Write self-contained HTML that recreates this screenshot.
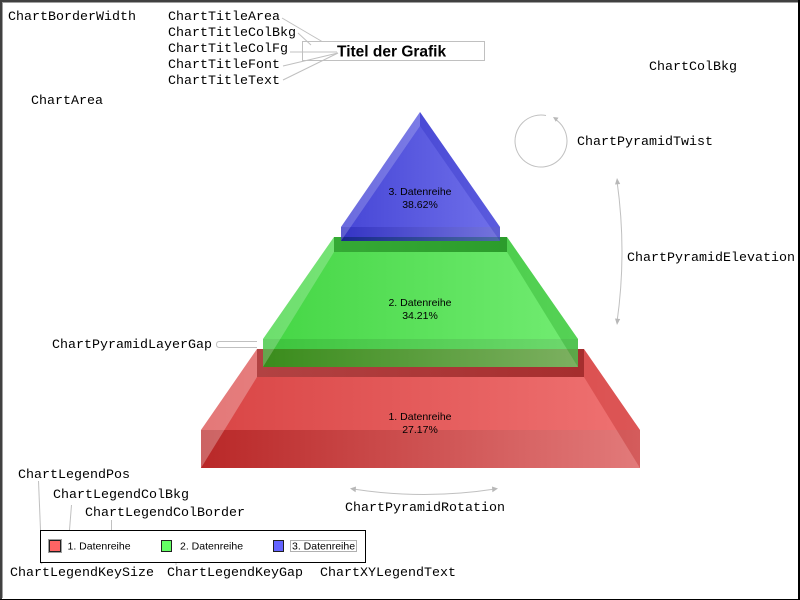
<!DOCTYPE html>
<html>
<head>
<meta charset="utf-8">
<style>
html,body{margin:0;padding:0;background:#fff;}
svg{display:block;}
.m{font-family:"Liberation Mono","DejaVu Sans Mono",monospace;font-size:13.33px;fill:#000;}
.s{font-family:"Liberation Sans",Arial,sans-serif;font-size:10.5px;fill:#000;}
</style>
</head>
<body>
<svg width="800" height="600" viewBox="0 0 800 600" xmlns="http://www.w3.org/2000/svg">
<defs>
<linearGradient id="rF" x1="0" y1="0" x2="1" y2="0"><stop offset="0" stop-color="#d94545"/><stop offset="1" stop-color="#ef7272"/></linearGradient>
<linearGradient id="rT" x1="0" y1="0" x2="1" y2="0"><stop offset="0" stop-color="#b24242"/><stop offset="1" stop-color="#a62e2e"/></linearGradient>
<linearGradient id="rB" x1="0" y1="0" x2="1" y2="0"><stop offset="0" stop-color="#b92828"/><stop offset="1" stop-color="#e27a7a"/></linearGradient>
<linearGradient id="gF" x1="0" y1="0" x2="1" y2="0"><stop offset="0" stop-color="#45d645"/><stop offset="1" stop-color="#72ec72"/></linearGradient>
<linearGradient id="gT" x1="0" y1="0" x2="1" y2="0"><stop offset="0" stop-color="#35aa35"/><stop offset="1" stop-color="#2c9c2c"/></linearGradient>
<linearGradient id="gA" x1="0" y1="0" x2="1" y2="0"><stop offset="0" stop-color="#3cc43c"/><stop offset="1" stop-color="#6ed86e"/></linearGradient>
<linearGradient id="gB" x1="0" y1="0" x2="1" y2="0"><stop offset="0" stop-color="#3a8c1c"/><stop offset="1" stop-color="#7cb060"/></linearGradient>
<linearGradient id="bF" x1="0" y1="0" x2="1" y2="0"><stop offset="0" stop-color="#4646d6"/><stop offset="1" stop-color="#7070ea"/></linearGradient>
<linearGradient id="bA" x1="0" y1="0" x2="1" y2="0"><stop offset="0" stop-color="#3434c4"/><stop offset="1" stop-color="#7474dc"/></linearGradient>
<linearGradient id="bB" x1="0" y1="0" x2="1" y2="0"><stop offset="0" stop-color="#18288c"/><stop offset="1" stop-color="#4a6aa4"/></linearGradient>
</defs>

<rect x="0" y="0" width="800" height="600" fill="#fff"/>
<!-- border -->
<rect x="0" y="0" width="2" height="600" fill="#404040"/>
<rect x="0" y="0" width="800" height="2" fill="#404040"/>
<rect x="2" y="2" width="1" height="596" fill="#a0a0a0"/>
<rect x="2" y="2" width="796" height="1" fill="#a0a0a0"/>
<rect x="798" y="0" width="2" height="600" fill="#000"/>
<rect x="0" y="599" width="800" height="1" fill="#000"/>

<!-- RED layer -->
<polygon points="257,349 584,349 640,430 640,468 201,468 201,430" fill="url(#rF)"/>
<rect x="201" y="430" width="439" height="38" fill="url(#rB)"/>
<rect x="257" y="349" width="327" height="28" fill="url(#rT)"/>
<polygon points="257,349 201,430 201,468 257,377" fill="#ffffff" fill-opacity="0.28"/>
<polygon points="584,349 640,430 640,468 584,377" fill="#b01010" fill-opacity="0.28"/>

<!-- GREEN layer -->
<polygon points="334,237 507,237 578,339 578,367 263,367 263,339" fill="url(#gF)"/>
<rect x="263" y="339" width="315" height="10" fill="url(#gA)"/>
<rect x="263" y="349" width="315" height="18" fill="url(#gB)"/>
<rect x="334" y="237" width="173" height="15" fill="url(#gT)"/>
<polygon points="334,237 263,339 263,367 334,252" fill="#ffffff" fill-opacity="0.22"/>
<polygon points="507,237 578,339 578,367 507,252" fill="#109010" fill-opacity="0.28"/>

<!-- BLUE layer -->
<polygon points="420,112 500,227 500,241 341,241 341,227" fill="url(#bF)"/>
<rect x="341" y="227" width="159" height="10" fill="url(#bA)"/>
<rect x="341" y="237" width="159" height="4" fill="url(#bB)"/>
<polygon points="420,112 341,227 341,241 420,126" fill="#ffffff" fill-opacity="0.2"/>
<polygon points="420,112 500,227 500,241 420,126" fill="#1010b0" fill-opacity="0.22"/>

<!-- pyramid labels -->
<text class="s" x="420" y="195" text-anchor="middle">3. Datenreihe</text>
<text class="s" x="420" y="208" text-anchor="middle">38.62%</text>
<text class="s" x="420" y="306" text-anchor="middle">2. Datenreihe</text>
<text class="s" x="420" y="319" text-anchor="middle">34.21%</text>
<text class="s" x="420" y="420" text-anchor="middle">1. Datenreihe</text>
<text class="s" x="420" y="433" text-anchor="middle">27.17%</text>

<!-- Title box -->
<rect x="302.5" y="41.5" width="182" height="19" fill="#fff" stroke="#c0c0c0" stroke-width="1"/>
<text x="337" y="56.7" font-family="'Liberation Sans',Arial,sans-serif" font-weight="bold" font-size="15.5" fill="#000">Titel der Grafik</text>
<g stroke="#c0c0c0" stroke-width="1" fill="none">
<path d="M282,18 L322,41.5"/>
<path d="M298,33 L311,45"/>
<path d="M290,52 L337,52"/>
<path d="M283,66 L338,53"/>
<path d="M283,80 L338,53"/>
</g>

<!-- top labels -->
<text class="m" x="8" y="20">ChartBorderWidth</text>
<text class="m" x="168" y="20">ChartTitleArea</text>
<text class="m" x="168" y="36">ChartTitleColBkg</text>
<text class="m" x="168" y="52">ChartTitleColFg</text>
<text class="m" x="168" y="68">ChartTitleFont</text>
<text class="m" x="168" y="84">ChartTitleText</text>
<text class="m" x="31" y="104">ChartArea</text>
<text class="m" x="649" y="70">ChartColBkg</text>

<!-- twist -->
<path d="M546,115.5 A26,26 0 1 0 555,119.1" fill="none" stroke="#c0c0c0" stroke-width="1"/>
<polygon points="553,117 558.5,117.6 555.8,121.8" fill="#b8b8b8"/>
<text class="m" x="577" y="145">ChartPyramidTwist</text>

<!-- elevation -->
<path d="M617,181 Q627,252 617,322" fill="none" stroke="#c0c0c0" stroke-width="1"/>
<polygon points="617,178 620.2,184 615,184.5" fill="#b8b8b8"/>
<polygon points="617,325 620.2,319 615,318.5" fill="#b8b8b8"/>
<text class="m" x="627" y="261">ChartPyramidElevation</text>

<!-- layer gap -->
<path d="M257,341.5 H219.5 Q216.5,341.5 216.5,344.5 Q216.5,347.5 219.5,347.5 H257" fill="none" stroke="#c0c0c0" stroke-width="1"/>
<text class="m" x="52" y="348">ChartPyramidLayerGap</text>

<!-- rotation -->
<path d="M353,489 Q424,500 495,489" fill="none" stroke="#c0c0c0" stroke-width="1"/>
<polygon points="350,488.5 356,486.5 355.6,492.2" fill="#b8b8b8"/>
<polygon points="498,488.5 492,486.5 492.4,492.2" fill="#b8b8b8"/>
<text class="m" x="345" y="511">ChartPyramidRotation</text>

<!-- legend labels top -->
<text class="m" x="18" y="478">ChartLegendPos</text>
<text class="m" x="53" y="498">ChartLegendColBkg</text>
<text class="m" x="85" y="516">ChartLegendColBorder</text>
<g stroke="#c0c0c0" stroke-width="1" fill="none">
<path d="M38.5,481 L40.5,530"/>
<path d="M71.5,505 L69.5,530"/>
<path d="M111.5,520 L111.5,530"/>
<path d="M54,551 L41,564"/>
<path d="M173.5,551 L173.5,557 L176,562 M180,551 L178,557 L176,562 L176,565"/>
<path d="M326,552 L352,562"/>
</g>

<!-- legend box -->
<rect x="40.5" y="530.5" width="325" height="32" fill="#fff" stroke="#000" stroke-width="1"/>
<rect x="48.5" y="539.5" width="13" height="13" fill="none" stroke="#a0a0a0" stroke-width="1"/>
<rect x="49.5" y="540.5" width="11" height="11" fill="#ff6464" stroke="#202020" stroke-width="1"/>
<text class="s" x="67.5" y="549.5">1. Datenreihe</text>
<rect x="161.5" y="540.5" width="10" height="11" fill="#64ff64" stroke="#202020" stroke-width="1"/>
<text class="s" x="180" y="549.5">2. Datenreihe</text>
<rect x="273.5" y="540.5" width="10" height="11" fill="#6464ff" stroke="#202020" stroke-width="1"/>
<rect x="290.5" y="540.5" width="66" height="11" fill="none" stroke="#b0b0b0" stroke-width="1"/>
<text class="s" x="292" y="549.5">3. Datenreihe</text>

<!-- legend labels bottom -->
<text class="m" x="10" y="576">ChartLegendKeySize</text>
<text class="m" x="167" y="576">ChartLegendKeyGap</text>
<text class="m" x="320" y="576">ChartXYLegendText</text>
</svg>
</body>
</html>
